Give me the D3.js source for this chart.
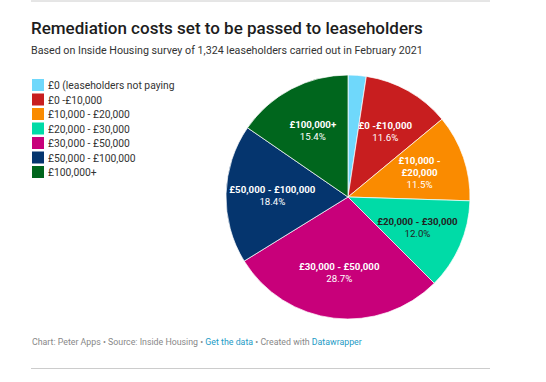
<!DOCTYPE html>
<html>
<head>
<meta charset="utf-8">
<script src="https://cdn.jsdelivr.net/npm/d3@7"></script>
<style>
  body { margin: 0; background: #fff; font-family: Roboto, "Noto Sans", sans-serif; }
  svg text { font-family: Roboto, "Noto Sans", sans-serif; }
  .link { fill: #1d9bc6; }
</style>
</head>
<body>
<svg id="chart" width="546" height="382"></svg>
<script>
// Chart data
const categories = ["£0 (leaseholders not paying", "£0 -£10,000", "£10,000 - £20,000",
  "£20,000 - £30,000", "£30,000 - £50,000", "£50,000 - £100,000", "£100,000+"];
const shares = [2.4, 11.6, 11.5, 12.0, 28.7, 18.4, 15.4];
const colors = ["#6fd8fb", "#c81e1f", "#fa8b00", "#00dba7", "#c8007a", "#05356e", "#00661d"];
const darkText = ["£20,000 - £30,000"];
const wrapped = ["£10,000 - £20,000"];

const w = 546, h = 382;
const cx = 348, cy = 197, r = 122;

const svg = d3.select("#chart");

//Rules top & bottom
svg.append("line").attr("x1", 31).attr("x2", 490).attr("y1", 1).attr("y2", 1)
   .attr("stroke", "#ccc").attr("stroke-width", 1);
svg.append("line").attr("x1", 31).attr("x2", 490).attr("y1", 368.5).attr("y2", 368.5)
   .attr("stroke", "#ccc").attr("stroke-width", 1);

//Title
svg.append("text").attr("x", 31).attr("y", 34)
   .attr("font-size", 17).attr("font-weight", 500).attr("fill", "#1d1d1d")
   .text("Remediation costs set to be passed to leaseholders");
svg.append("text").attr("x", 31).attr("y", 54)
   .attr("font-size", 10.7).attr("fill", "#333")
   .text("Based on Inside Housing survey of 1,324 leaseholders carried out in February 2021");

//Legend
const legend = svg.append("g").attr("transform", "translate(32,79)");
const rows = legend.selectAll("g").data(categories).enter().append("g")
   .attr("transform", (d, i) => "translate(0," + i * 14.5 + ")");
rows.append("rect").attr("width", 12).attr("height", 12).attr("fill", (d, i) => colors[i]);
rows.append("text").attr("x", 16).attr("y", 10).attr("font-size", 10.3).attr("fill", "#333")
   .text(d => d);

//Pie
const data = categories.map((c, i) => ({ name: c, value: shares[i], color: colors[i] }));
const pie = d3.pie().sort(null).value(d => d.value);
const arc = d3.arc().innerRadius(0).outerRadius(r);
const labelArc = d3.arc().innerRadius(r * 0.62).outerRadius(r * 0.62);

const g = svg.append("g").attr("transform", "translate(" + cx + "," + cy + ")");
const arcs = pie(data);

g.selectAll("path").data(arcs).enter().append("path")
 .attr("d", arc)
 .attr("fill", d => d.data.color)
 .attr("stroke", "#fff").attr("stroke-width", 0.7);

//Labels (skip tiny slice)
const labels = g.selectAll("text.lbl").data(arcs.filter(d => d.data.value > 5)).enter()
  .append("text").attr("class", "lbl")
  .attr("text-anchor", "middle")
  .attr("font-size", 9.7)
  .attr("fill", d => darkText.includes(d.data.name) ? "#222" : "#fff")
  .attr("transform", d => "translate(" + labelArc.centroid(d) + ")");

labels.each(function (d) {
  const t = d3.select(this);
  let lines = wrapped.includes(d.data.name)
    ? [d.data.name.split(" - ")[0] + " -", d.data.name.split(" - ")[1]]
    : [d.data.name];
  lines.push(d.data.value.toFixed(1) + "%");
  const lh = 12;
  const y0 = -(lines.length - 1) * lh / 2 + 4;
  lines.forEach((l, i) => {
    t.append("tspan").attr("x", 0).attr("y", y0 + i * lh)
     .attr("font-weight", i < lines.length - 1 ? 700 : 400)
     .text(l);
  });
});

//Footer
const foot = svg.append("text").attr("x", 32).attr("y", 345).attr("font-size", 8.8).attr("fill", "#888");
foot.append("tspan").text("Chart: Peter Apps • Source: Inside Housing • ");
foot.append("tspan").attr("class", "link").text("Get the data");
foot.append("tspan").text(" • Created with ");
foot.append("tspan").attr("class", "link").text("Datawrapper");
</script>
</body>
</html>
